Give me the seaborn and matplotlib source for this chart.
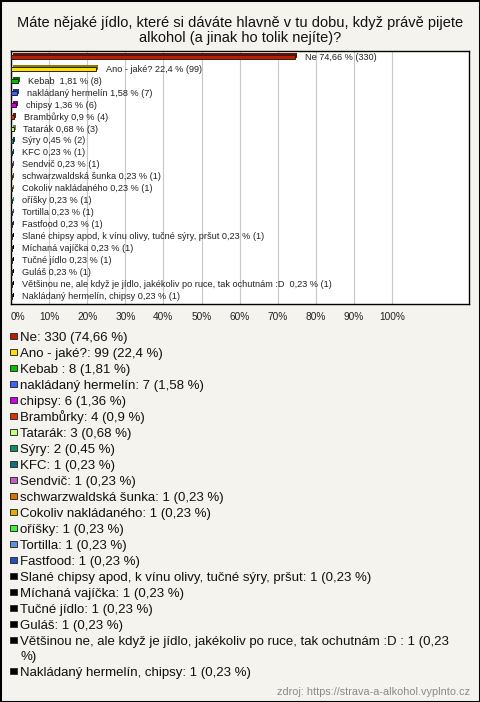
import textwrap
import matplotlib
matplotlib.use("Agg")
import matplotlib.pyplot as plt
import matplotlib.colors as mcolors
import matplotlib.patheffects as pe
from matplotlib.patches import Rectangle
import numpy as np
import pandas as pd
import seaborn as sns

# ---------------- data ----------------
title = "Máte nějaké jídlo, které si dáváte hlavně v tu dobu, když právě pijete\nalkohol (a jinak ho tolik nejíte)?"
categories = [
    "Ne", "Ano - jaké?", "Kebab ", "nakládaný hermelín", "chipsy", "Brambůrky",
    "Tatarák", "Sýry", "KFC", "Sendvič", "schwarzwaldská šunka",
    "Cokoliv nakládaného", "oříšky", "Tortilla", "Fastfood",
    "Slané chipsy apod, k vínu olivy, tučné sýry, pršut", "Míchaná vajíčka",
    "Tučné jídlo", "Guláš",
    "Většinou ne, ale když je jídlo, jakékoliv po ruce, tak ochutnám :D ",
    "Nakládaný hermelín, chipsy",
]
counts = [330, 99, 8, 7, 6, 4, 3, 2, 1, 1, 1, 1, 1, 1, 1, 1, 1, 1, 1, 1, 1]
percents = [74.66, 22.4, 1.81, 1.58, 1.36, 0.9, 0.68, 0.45, 0.23, 0.23, 0.23,
            0.23, 0.23, 0.23, 0.23, 0.23, 0.23, 0.23, 0.23, 0.23, 0.23]
colors = ["#c01a00", "#ffe000", "#00c000", "#4060ff", "#d000e0", "#e03000",
          "#c0ff80", "#109060", "#107080", "#c060c0", "#e07000", "#e0b000",
          "#40f040", "#6090e0", "#2050c0", "#000000", "#000000", "#000000",
          "#000000", "#000000", "#000000"]
x_ticks = [0, 10, 20, 30, 40, 50, 60, 70, 80, 90, 100]
x_tick_labels = [f"{t}%" for t in x_ticks]
source = "zdroj: https://strava-a-alkohol.vyplnto.cz"

# ---------------- style ----------------
sns.set_style("white")
plt.rcParams["font.family"] = ["Liberation Sans", "DejaVu Sans"]

W, H = 480, 702
BG = "#f4f3ee"
fig = plt.figure(figsize=(W / 100, H / 100), dpi=100)
fig.patch.set_facecolor(BG)


def fy(px):
    return 1 - px / H


def fx(px):
    return px / W


ax = fig.add_axes([fx(11), fy(304), fx(469) - fx(11), fy(51) - fy(304)])
ax.set_facecolor("white")

df = pd.DataFrame({"cat": categories, "pct": percents, "n": counts})
pal = dict(zip(categories, colors))
sns.barplot(data=df, x="pct", y="cat", hue="cat", palette=pal, orient="h",
            width=0.38, edgecolor="#222222", linewidth=0.7, legend=False,
            saturation=1, ax=ax, zorder=3)

n = len(categories)
ax.set_xlim(0, 120.2)
ax.set_ylim(n - 1 + 0.62, -0.52)

# 3D-like shading
for patch, c in zip(ax.patches, colors):
    dark = np.array(mcolors.to_rgb(c)) * 0.55
    patch.set_path_effects([
        pe.SimplePatchShadow(offset=(1.4, 1.2), shadow_rgbFace=dark, alpha=1),
        pe.Normal(),
    ])


def fmt(p):
    return f"{p:g}".replace(".", ",")


bar_labels = [f"{c} {fmt(p)} % ({k})" for c, p, k in zip(categories, percents, counts)]
for cont, lab in zip(ax.containers, bar_labels):
    ax.bar_label(cont, labels=[lab], padding=7, fontsize=6.6, color="#222222")

ax.set_xticks(x_ticks)
ax.set_xticklabels(x_tick_labels, fontsize=7.3, color="#222222")
ax.get_xticklabels()[0].set_horizontalalignment("left")
ax.tick_params(axis="x", length=0, pad=6)
ax.set_yticks([])
ax.set_xlabel("")
ax.set_ylabel("")
ax.grid(axis="x", color="#c8c8c8", linewidth=0.8, zorder=0)
ax.grid(axis="y", visible=False)
ax.set_axisbelow(True)
for s in ax.spines.values():
    s.set_visible(True)
    s.set_color("#000000")
    s.set_linewidth(1.0)

# title
fig.text(0.5, fy(16), title, ha="center", va="top", fontsize=10.5,
         color="#111111", linespacing=1.08)

# legend (manual, below chart)
y = 336.0
for c, k, p, col in zip(categories, counts, percents, colors):
    label = f"{c}: {k} ({fmt(p)} %)"
    lines = textwrap.wrap(label, 76)
    fig.patches.append(Rectangle((fx(9.5), fy(y + 3.2)), fx(7) - fx(0), (fy(y - 3.2) - fy(y + 3.2)),
                                 transform=fig.transFigure, facecolor=col,
                                 edgecolor="#333333", linewidth=0.7, figure=fig))
    for li, line in enumerate(lines):
        fig.text(fx(20.5), fy(y + 4.6 + li * 15), line, ha="left", va="baseline",
                 fontsize=9.5, color="#111111")
    y += 16 + 15 * (len(lines) - 1)

fig.text(fx(470), fy(695), source, ha="right", va="baseline", fontsize=7.8,
         color="#8a8a8a")

# outer border
fig.patches.append(Rectangle((0, 0), 1, 1, transform=fig.transFigure,
                             fill=False, edgecolor="#000000", linewidth=2.2,
                             figure=fig))

fig.savefig("out.png", dpi=100, facecolor=BG)
